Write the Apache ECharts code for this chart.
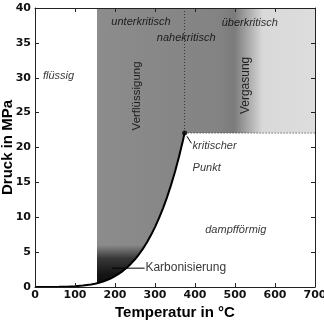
<!DOCTYPE html>
<html>
<head>
<meta charset="utf-8">
<script src="https://cdn.jsdelivr.net/npm/echarts@6/dist/echarts.min.js"></script>
<style>
  html, body { margin: 0; padding: 0; background: #fff; }
  #chart { width: 324px; height: 320px; }
</style>
</head>
<body>
<div id="chart"></div>
<script>
// Dampfdruckkurve Wasser (Temperatur °C, Druck MPa)
const curveT = [0, 20, 40, 60, 80, 100, 120, 140, 150, 155, 160, 170, 180, 190, 200, 210, 220, 230, 240, 250, 260, 270, 280, 290, 300, 310, 320, 330, 340, 350, 360, 370, 374];
const curveP = [0.0006, 0.0023, 0.0074, 0.02, 0.047, 0.101, 0.199, 0.361, 0.476, 0.543, 0.618, 0.792, 1.003, 1.255, 1.555, 1.908, 2.32, 2.797, 3.347, 3.976, 4.692, 5.503, 6.417, 7.442, 8.588, 9.865, 11.284, 12.858, 14.601, 16.529, 18.666, 21.044, 22.064];
const critPoint = [374, 22.064];
const grayStartT = 155;
const darkTopP = 7;

const curve = curveT.map((t, i) => [t, curveP[i]]);
const edge = curve.filter(p => p[0] >= grayStartT);

// graue Fläche oberhalb der Kurve bzw. oberhalb des kritischen Drucks
const grayPoly = [[grayStartT, 40], [700, 40], [700, critPoint[1]], critPoint]
  .concat(edge.slice().reverse());
// dunkler Bereich unten (Karbonisierung)
const darkEdge = edge.filter(p => p[1] <= darkTopP);
const darkPoly = [[grayStartT, darkTopP], [284, darkTopP]].concat(darkEdge.slice().reverse());

const labels = [
  { value: [20, 30.2], name: 'flüssig', italic: true, align: 'left' },
  { value: [265, 38], name: 'unterkritisch', italic: true, align: 'center' },
  { value: [378, 35.7], name: 'nahekritisch', italic: true, align: 'center' },
  { value: [537, 37.8], name: 'überkritisch', italic: true, align: 'center' },
  { value: [394, 20.2], name: 'kritischer', italic: true, align: 'left' },
  { value: [394, 17.1], name: 'Punkt', italic: true, align: 'left' },
  { value: [502, 8.2], name: 'dampfförmig', italic: true, align: 'center' },
  { value: [276, 2.7], name: 'Karbonisierung', italic: false, align: 'left', size: 12 },
  { value: [255, 27.4], name: 'Verflüssigung', italic: false, align: 'center', rotate: 90, size: 11.5 },
  { value: [526, 28.9], name: 'Vergasung', italic: false, align: 'center', rotate: 90, size: 12 }
];

function polySeries(points, fill) {
  return {
    type: 'custom',
    silent: true,
    data: [0],
    z: 1,
    renderItem: function (params, api) {
      return {
        type: 'polygon',
        shape: { points: points.map(p => api.coord(p)) },
        style: { fill: fill }
      };
    }
  };
}

const chart = echarts.init(document.getElementById('chart'));
const axisFont = { fontFamily: 'DejaVu Sans', fontSize: 11, color: '#111', fontWeight: 'bold' };
const tick = { inside: true, length: 4, lineStyle: { color: '#222' } };
const line = { show: true, onZero: false, lineStyle: { color: '#222', width: 1 } };

chart.setOption({
  animation: false,
  grid: { left: 35, right: 9, top: 8, bottom: 33, outerBoundsMode: 'none', containLabel: false },
  xAxis: [{
    type: 'value', min: 0, max: 700, interval: 100, z: 10,
    name: 'Temperatur in °C', nameLocation: 'middle', nameGap: 18, nameMoveOverlap: false,
    nameTextStyle: { fontFamily: 'Liberation Sans', fontWeight: 'bold', fontSize: 15, color: '#000' },
    axisLine: line, axisTick: tick,
    axisLabel: Object.assign({ margin: 3 }, axisFont),
    splitLine: { show: false }
  }, {
    type: 'value', min: 0, max: 700, interval: 100, position: 'top', z: 10,
    axisLine: line, axisTick: tick,
    axisLabel: { show: false }, splitLine: { show: false }
  }],
  yAxis: [{
    type: 'value', min: 0, max: 40, interval: 5, z: 10,
    name: 'Druck in MPa', nameLocation: 'middle', nameGap: 20, nameMoveOverlap: false,
    nameTextStyle: { fontFamily: 'Liberation Sans', fontWeight: 'bold', fontSize: 15, color: '#000' },
    axisLine: line, axisTick: tick,
    axisLabel: Object.assign({ margin: 4 }, axisFont),
    splitLine: { show: false }
  }, {
    type: 'value', min: 0, max: 40, interval: 5, position: 'right', z: 10,
    axisLine: line, axisTick: tick,
    axisLabel: { show: false }, splitLine: { show: false }
  }],
  series: [
    polySeries(grayPoly, new echarts.graphic.LinearGradient(0, 0, 1, 0, [
      { offset: 0, color: '#8c8c8c' },
      { offset: 0.56, color: '#838383' },
      { offset: 0.63, color: '#7b7b7b' },
      { offset: 0.76, color: '#d9d9d9' },
      { offset: 1, color: '#dddddd' }
    ])),
    polySeries(darkPoly, new echarts.graphic.LinearGradient(0, 0, 0, 1, [
      { offset: 0, color: 'rgba(0,0,0,0)' },
      { offset: 0.15, color: 'rgba(0,0,0,0)' },
      { offset: 0.45, color: 'rgba(0,0,0,0.6)' },
      { offset: 0.8, color: 'rgba(0,0,0,0.85)' },
      { offset: 1, color: 'rgba(0,0,0,0.9)' }
    ])),
    {
      type: 'line', data: [[critPoint[0], 40], critPoint], symbol: 'none', z: 3,
      lineStyle: { color: '#333', width: 1, type: [1, 2] }
    },
    {
      type: 'line', data: [critPoint, [700, critPoint[1]]], symbol: 'none', z: 3,
      lineStyle: { color: '#333', width: 1, type: [1, 2] }
    },
    {
      type: 'line', data: curve, symbol: 'none', z: 4,
      lineStyle: { color: '#000', width: 2 }
    },
    {
      type: 'scatter', data: [critPoint], symbolSize: 5, z: 5,
      itemStyle: { color: '#000' }
    },
    {
      type: 'line', data: [[380, 21.6], [391, 20.6]], symbol: 'none', z: 4,
      lineStyle: { color: '#000', width: 1 }
    },
    {
      type: 'line', data: [[192, 2.7], [274, 2.7]], symbol: 'none', z: 4,
      lineStyle: { color: '#000', width: 1 }
    },
    {
      type: 'scatter', symbolSize: 0, z: 6, silent: true,
      data: labels.map(l => ({
        value: l.value,
        label: {
          show: true, position: 'inside', formatter: l.name,
          fontFamily: 'Liberation Sans', fontSize: l.size || 11,
          fontStyle: l.italic ? 'italic' : 'normal',
          color: '#000', align: l.align, verticalAlign: 'middle',
          rotate: l.rotate || 0
        }
      }))
    }
  ]
});
</script>
</body>
</html>
